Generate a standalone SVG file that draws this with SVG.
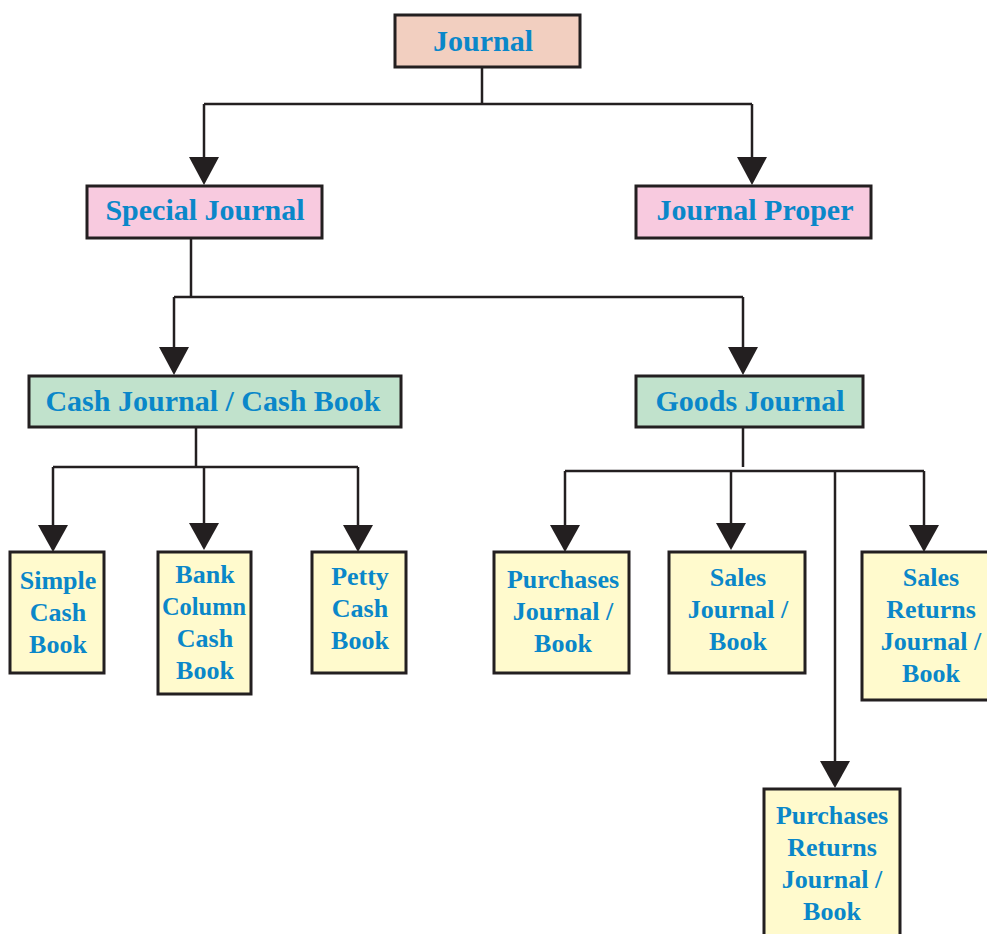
<svg xmlns="http://www.w3.org/2000/svg" width="987" height="934" viewBox="0 0 987 934">
<defs>
<style>
.box{stroke:#231f20;stroke-width:3}
.l1{fill:#f2cfc0}
.l2{fill:#f8cadf}
.l3{fill:#c1e2cc}
.l4{fill:#fffacd}
.t{font-family:"Liberation Serif","Times New Roman",serif;font-weight:bold;fill:#0a87c9;text-anchor:middle}
.big{font-size:30px}
.sm{font-size:26px}
.c{fill:none;stroke:#231f20;stroke-width:2.5}
.ah{fill:#231f20}
</style>
</defs>
<rect width="987" height="934" fill="#fff"/>
<g id="connectors">
<path class="c" d="M482,67 V104"/>
<path class="c" d="M204,104 H752"/>
<path class="c" d="M204,104 V159"/>
<path class="ah" d="M189,157 L219,157 L204,185 Z"/>
<path class="c" d="M752,104 V159"/>
<path class="ah" d="M737,157 L767,157 L752,185 Z"/>
<path class="c" d="M191,238 V297"/>
<path class="c" d="M174,297 H743"/>
<path class="c" d="M174,297 V349"/>
<path class="ah" d="M159,347 L189,347 L174,375 Z"/>
<path class="c" d="M743,297 V349"/>
<path class="ah" d="M728,347 L758,347 L743,375 Z"/>
<path class="c" d="M196,427 V467"/>
<path class="c" d="M53,467 H358"/>
<path class="c" d="M53,467 V527"/>
<path class="ah" d="M38,525 L68,525 L53,552 Z"/>
<path class="c" d="M204,467 V525"/>
<path class="ah" d="M189,523 L219,523 L204,550 Z"/>
<path class="c" d="M358,467 V527"/>
<path class="ah" d="M343,525 L373,525 L358,552 Z"/>
<path class="c" d="M743,427 V467"/>
<path class="c" d="M565,471 H924"/>
<path class="c" d="M565,471 V527"/>
<path class="ah" d="M550,525 L580,525 L565,552 Z"/>
<path class="c" d="M731,471 V525"/>
<path class="ah" d="M716,523 L746,523 L731,550 Z"/>
<path class="c" d="M924,471 V527"/>
<path class="ah" d="M909,525 L939,525 L924,552 Z"/>
<path class="c" d="M835,471 V763"/>
<path class="ah" d="M820,761 L850,761 L835,788 Z"/>
</g>
<g id="journal">
<rect class="box l1" x="395" y="15" width="185" height="52"/>
<text class="t big" x="483" y="51">Journal</text>
</g>
<g id="special-journal">
<rect class="box l2" x="87" y="186" width="235" height="52"/>
<text class="t big" x="205" y="220">Special Journal</text>
</g>
<g id="journal-proper">
<rect class="box l2" x="636" y="186" width="235" height="52"/>
<text class="t big" x="755" y="220">Journal Proper</text>
</g>
<g id="cash-journal">
<rect class="box l3" x="29" y="376" width="372" height="51"/>
<text class="t big" x="213" y="411">Cash Journal / Cash Book</text>
</g>
<g id="goods-journal">
<rect class="box l3" x="636" y="376" width="227" height="51"/>
<text class="t big" x="750" y="411">Goods Journal</text>
</g>
<g id="simple-cash-book">
<rect class="box l4" x="10" y="552" width="94" height="121"/>
<text class="t sm" x="58" y="589">Simple</text>
<text class="t sm" x="58" y="621">Cash</text>
<text class="t sm" x="58" y="653">Book</text>
</g>
<g id="bank-column-cash-book">
<rect class="box l4" x="158" y="552" width="93" height="142"/>
<text class="t sm" x="205" y="583">Bank</text>
<text class="t sm" x="204" y="615" textLength="84" lengthAdjust="spacingAndGlyphs">Column</text>
<text class="t sm" x="205" y="647">Cash</text>
<text class="t sm" x="205" y="679">Book</text>
</g>
<g id="petty-cash-book">
<rect class="box l4" x="312" y="552" width="94" height="121"/>
<text class="t sm" x="360" y="585">Petty</text>
<text class="t sm" x="360" y="617">Cash</text>
<text class="t sm" x="360" y="649">Book</text>
</g>
<g id="purchases-journal">
<rect class="box l4" x="494" y="552" width="135" height="121"/>
<text class="t sm" x="563" y="588">Purchases</text>
<text class="t sm" x="563" y="620">Journal /</text>
<text class="t sm" x="563" y="652">Book</text>
</g>
<g id="sales-journal">
<rect class="box l4" x="669" y="552" width="136" height="121"/>
<text class="t sm" x="738" y="586">Sales</text>
<text class="t sm" x="738" y="618">Journal /</text>
<text class="t sm" x="738" y="650">Book</text>
</g>
<g id="sales-returns-journal">
<rect class="box l4" x="862" y="552" width="140" height="148"/>
<text class="t sm" x="931" y="586">Sales</text>
<text class="t sm" x="931" y="618">Returns</text>
<text class="t sm" x="931" y="650">Journal /</text>
<text class="t sm" x="931" y="682">Book</text>
</g>
<g id="purchases-returns-journal">
<rect class="box l4" x="764" y="789" width="136" height="160"/>
<text class="t sm" x="832" y="824">Purchases</text>
<text class="t sm" x="832" y="856">Returns</text>
<text class="t sm" x="832" y="888">Journal /</text>
<text class="t sm" x="832" y="920">Book</text>
</g>
</svg>
